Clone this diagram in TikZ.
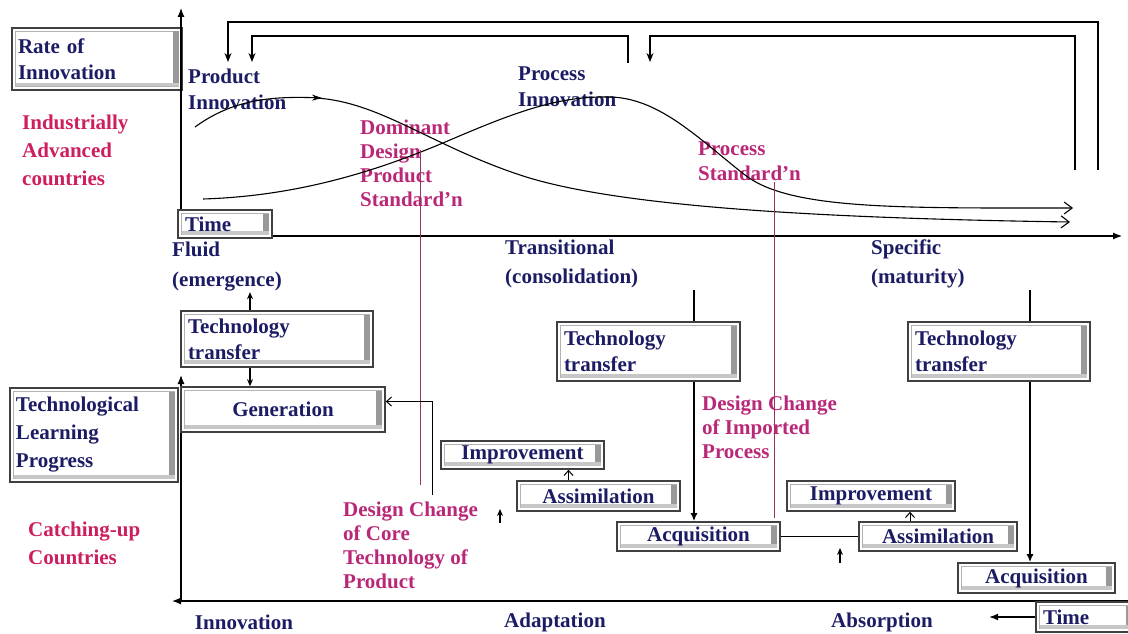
\documentclass[tikz,border=0pt]{standalone}
\usepackage{fontspec}
\setmainfont{Liberation Serif}
\usetikzlibrary{arrows.meta}

\definecolor{navytext}{RGB}{28,28,100}
\definecolor{regionpink}{RGB}{205,30,95}
\definecolor{notepink}{RGB}{185,40,120}
\definecolor{guidepink}{RGB}{150,50,95}

\begin{document}
\begin{tikzpicture}[x=1pt,y=-1pt,
		every node/.style={font=\bfseries\fontsize{21}{26}\selectfont,inner sep=0pt,text=navytext},
		btn/.style={draw=black!75,line width=1.6pt,fill=white,
			path picture={
				\draw[black!30,line width=1.2pt]
					([shift={(3.5pt,-3.5pt)}]path picture bounding box.north west) rectangle
					([shift={(-3.5pt,3.5pt)}]path picture bounding box.south east);
				\fill[black!40]
					([shift={(-9pt,-3.5pt)}]path picture bounding box.north east) rectangle
					([shift={(-3.5pt,3.5pt)}]path picture bounding box.south east);
				\fill[black!22]
					([shift={(3.5pt,7pt)}]path picture bounding box.south west) rectangle
					([shift={(-3.5pt,3.5pt)}]path picture bounding box.south east);}},
		lbl/.style={anchor=north west,align=left},
		regionlbl/.style={lbl,text=regionpink,font=\bfseries\fontsize{21}{28}\selectfont},
		pinknote/.style={lbl,text=notepink,font=\bfseries\fontsize{21}{24}\selectfont},
		axisline/.style={line width=1.2pt,-{Latex[length=9pt,width=7pt]}},
		fb/.style={line width=1.1pt,-{Stealth[length=9pt,width=7pt]}},
		curve/.style={line width=1.1pt},
		curvetip/.style={-{Straight Barb[length=8pt,width=12pt]}},
		guideln/.style={guidepink,line width=0.8pt},
		thickln/.style={line width=2pt},
		tinyarrow/.style={line width=1.2pt,-{Stealth[length=7pt,width=6pt]}},
		openarrow/.style={line width=1pt,-{Straight Barb[length=5pt,width=9pt]}}
	]
	\useasboundingbox (0,0) rectangle (1128,634);

	% Upper panel: rate of innovation
	\node[btn,minimum width=170pt,minimum height=62pt,text width=158pt,align=left] (rate) at (97,59) {Rate of\\Innovation};
	\node[btn,minimum width=94pt,minimum height=28pt,text width=80pt,align=left] (utime) at (225,224) {Time};
	\coordinate (uo) at (181,236);
	\draw[axisline] (utime.north -| uo) -- (181,8);
	\draw[axisline] (utime.east |- uo) -- (1122,236);

	\node[regionlbl] (indus) at (22,115) {Industrially\\Advanced\\countries};
	\node[lbl] (prodinn) at (188,69) {Product\\Innovation};
	\node[lbl] (procinn) at (518,67) {Process\\Innovation};
	\node[pinknote] (domdes) at (360,120) {Dominant\\Design\\Product\\Standard’n};
	\node[pinknote,font=\bfseries\fontsize{21}{25}\selectfont] (procstd) at (698,142) {Process\\Standard’n};

	% feedback brackets
	\draw[fb] (1098,170) -- (1098,22) -- (228,22) -- (228,62);
	\draw[fb] (628,63) -- (628,36) -- (252,36) -- (252,62);
	\draw[fb] (1075,170) -- (1075,36) -- (650,36) -- (650,62);

	% innovation curves
	\draw[curve,-{Stealth[length=10pt,width=6pt]}] (195,127) .. controls (232,100) and (270,96) .. (322,98);
	\draw[curve,curvetip] (316,98) .. controls (380,102) and (430,145) .. (520,175)
		.. controls (610,205) and (800,218) .. (1070,222);
	\draw[curve,curvetip] (203,199) .. controls (300,196) and (380,170) .. (450,140)
		.. controls (520,110) and (560,96) .. (610,97)
		.. controls (660,98) and (700,140) .. (745,175)
		.. controls (790,210) and (900,208) .. (1073,208);

	% phases
	\node[lbl,font=\bfseries\fontsize{21}{30}\selectfont] (fluid) at (172,242) {Fluid\\(emergence)};
	\node[lbl,font=\bfseries\fontsize{21}{29}\selectfont] (transit) at (505,240) {Transitional\\(consolidation)};
	\node[lbl,font=\bfseries\fontsize{21}{29}\selectfont] (specific) at (871,240) {Specific\\(maturity)};

	% guide lines
	\draw[guideln] (420,150) -- (420,485);
	\draw[guideln] (774,182) -- (774,518);

	% Lower panel: technological learning
	\node[btn,minimum width=168pt,minimum height=94pt,text width=156pt,align=left,
		font=\bfseries\fontsize{21}{28}\selectfont] (tlp) at (94,435) {Technological\\Learning\\Progress};
	\coordinate (lo) at (181,601);
	\draw[axisline] (lo) -- (181,375);
	\draw[axisline] (1128,601) -- (172,601);
	\node[regionlbl] (catch) at (28,522) {Catching-up\\Countries};

	\node[btn,minimum width=192pt,minimum height=56pt,text width=178pt,align=left] (tt1) at (277,339) {Technology\\transfer};
	\node[btn,minimum width=204pt,minimum height=45pt] (gen) at (283,409.5) {Generation};
	\node[btn,minimum width=183pt,minimum height=59pt,text width=169pt,align=left] (tt2) at (648.5,351.5) {Technology\\transfer};
	\node[btn,minimum width=182pt,minimum height=59pt,text width=168pt,align=left] (tt3) at (999,351.5) {Technology\\transfer};

	\node[btn,minimum width=163pt,minimum height=28pt] (imp1) at (522.5,455) {Improvement};
	\node[btn,minimum width=163pt,minimum height=30pt] (asm1) at (598.5,496) {Assimilation};
	\node[btn,minimum width=163pt,minimum height=29pt] (acq1) at (698.5,536.5) {Acquisition};
	\node[btn,minimum width=168pt,minimum height=30pt] (imp2) at (871,496) {Improvement};
	\node[btn,minimum width=158pt,minimum height=29pt] (asm2) at (938,536.5) {Assimilation};
	\node[btn,minimum width=157pt,minimum height=30pt] (acq2) at (1036.5,578) {Acquisition};
	\node[btn,minimum width=99pt,minimum height=30pt,text width=85pt,align=left] (ltime) at (1085.5,617) {Time};

	\node[pinknote] (dccore) at (343,502) {Design Change\\of Core\\Technology of\\Product};
	\node[pinknote] (dcimp) at (702,396) {Design Change\\of Imported\\Process};

	\node (innov) at (244,622) {Innovation};
	\node (adapt) at (555,622) {Adaptation};
	\node (absorp) at (882,622) {Absorption};

	% connectors
	\draw[tinyarrow] ([xshift=-27pt]tt1.north) -- ++(0,-18);
	\draw[tinyarrow] ([xshift=-27pt]tt1.south) -- ([xshift=-27pt]tt1.south |- gen.north);
	\coordinate (dcfoot) at (432,495);
	\draw[openarrow] (dcfoot) |- ([yshift=8pt]gen.east);
	\draw[openarrow] ([xshift=-30pt]asm1.north) -- ([xshift=-30pt]asm1.north |- imp1.south);
	\coordinate (tick1) at (500,523);
	\draw[tinyarrow] (tick1) -- ++(0,-14);

	\coordinate (tt2in) at (694,290);
	\draw[thickln] (tt2in) -- (tt2in |- tt2.north);
	\draw[thickln,-{Latex[length=8pt,width=7pt]}] (tt2in |- tt2.south) -- (tt2in |- acq1.north);
	\coordinate (tt3in) at (1030,290);
	\draw[thickln] (tt3in) -- (tt3in |- tt3.north);
	\draw[thickln,-{Latex[length=8pt,width=7pt]}] (tt3in |- tt3.south) -- (tt3in |- acq2.north);

	\draw[line width=1pt] (acq1.east) -- (asm2.west);
	\draw[openarrow] ([xshift=-28pt]asm2.north) -- ([xshift=-28pt]asm2.north |- imp2.south);
	\coordinate (tick2) at (840,563);
	\draw[tinyarrow] (tick2) -- ++(0,-15);
	\draw[line width=1.2pt,-{Latex[length=9pt,width=7pt]}] (ltime.west) -- ++(-46,0);
\end{tikzpicture}
\end{document}
